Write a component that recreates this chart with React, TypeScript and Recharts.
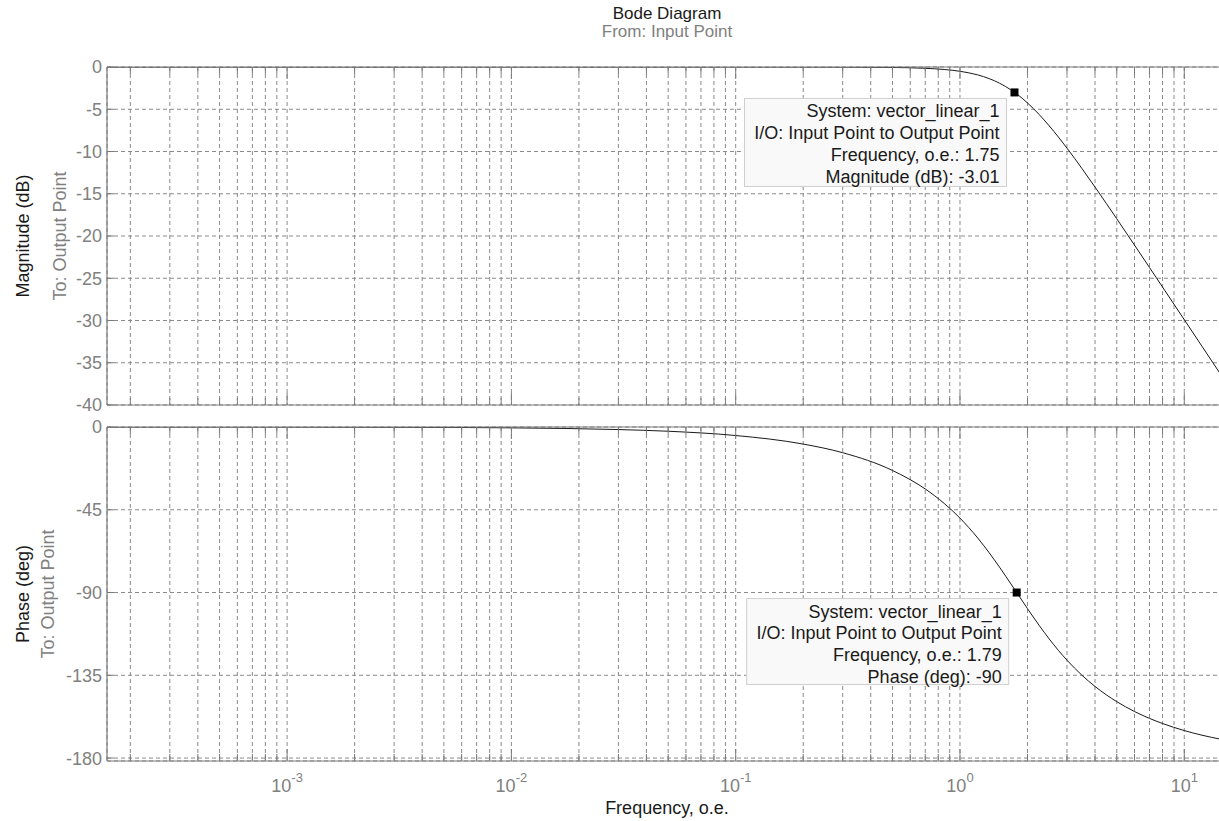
import React from 'react';
import { LineChart, Line, XAxis, YAxis, CartesianGrid, ReferenceDot } from 'recharts';

// ---- data ----
const freq = [0.0001574, 0.001, 0.003, 0.01, 0.03, 0.05, 0.1, 0.2, 0.3, 0.5, 0.7, 0.85, 1.0, 1.2, 1.35, 1.5, 1.6, 1.75, 1.79, 2.0, 2.25, 2.5, 2.75, 3, 3.5, 4, 4.5, 5, 6, 7, 8, 10, 12, 14.58];
const magDb = [0, 0, 0, 0, 0, 0, -0.001, -0.005, -0.014, -0.055, -0.155, -0.294, -0.508, -0.935, -1.374, -1.911, -2.321, -3.01, -3.19, -4.257, -5.6, -6.965, -8.307, -9.604, -12.025, -14.21, -16.179, -17.96, -21.08, -23.73, -26.04, -29.9, -33.06, -36.44];
const phaseDeg = [0, -0.05, -0.14, -0.46, -1.39, -2.31, -4.63, -9.28, -13.98, -23.63, -33.69, -41.52, -49.54, -60.37, -68.4, -76.17, -81.15, -88.21, -90, -98.75, -107.72, -115.24, -121.52, -126.78, -135, -141.06, -145.69, -149.33, -154.69, -158.44, -161.21, -165.05, -167.58, -169.8];

const magTicks = [0, -5, -10, -15, -20, -25, -30, -35, -40];
const phaseTicks = [0, -45, -90, -135, -180];
const decadeTicks = [0.001, 0.01, 0.1, 1, 10];
const decadeExponents = ['-3', '-2', '-1', '0', '1'];
const freqTicks = [
  0.0002, 0.0003, 0.0004, 0.0005, 0.0006, 0.0007, 0.0008, 0.0009,
  0.001, 0.002, 0.003, 0.004, 0.005, 0.006, 0.007, 0.008, 0.009,
  0.01, 0.02, 0.03, 0.04, 0.05, 0.06, 0.07, 0.08, 0.09,
  0.1, 0.2, 0.3, 0.4, 0.5, 0.6, 0.7, 0.8, 0.9,
  1, 2, 3, 4, 5, 6, 7, 8, 9,
  10,
];
const freqDomain = [0.0001574, 14.58];

const magCursor = { f: 1.75, v: -3.01 };
const phaseCursor = { f: 1.79, v: -90 };
const magCursorLines = ['System: vector_linear_1', 'I/O: Input Point to Output Point', 'Frequency, o.e.: 1.75', 'Magnitude (dB): -3.01'];
const phaseCursorLines = ['System: vector_linear_1', 'I/O: Input Point to Output Point', 'Frequency, o.e.: 1.79', 'Phase (deg): -90'];

const magData = freq.map((f, i) => ({ f, v: magDb[i] }));
const phaseData = freq.map((f, i) => ({ f, v: phaseDeg[i] }));

// ---- styles ----
const FONT = '"Liberation Sans", Arial, Helvetica, sans-serif';
const GRAY = '#808080';
const AXIS = '#7a7a7a';
const GRID = '#8a8a8a';
const INK = '#1a1a1a';

function isMajor(v: number) {
  return decadeTicks.findIndex((d) => Math.abs(d - v) / d < 1e-6);
}

function makeBottomTick(showLabels: boolean) {
  return (props: any) => {
    const { x, y, payload } = props;
    const di = isMajor(payload.value);
    const major = di >= 0;
    return (
      <g>
        <line x1={x} y1={y} x2={x} y2={y - (major ? 12 : 7)} stroke={AXIS} strokeWidth={1} />
        {showLabels && major && (
          <text x={x} y={y + 31} textAnchor="middle" fill={GRAY} fontSize={18} fontFamily={FONT}>
            10<tspan dy={-10} fontSize={13}>{decadeExponents[di]}</tspan>
          </text>
        )}
      </g>
    );
  };
}

const TopTick = (props: any) => {
  const { x, y, payload } = props;
  const major = isMajor(payload.value) >= 0;
  return <line x1={x} y1={y} x2={x} y2={y + (major ? 12 : 7)} stroke={AXIS} strokeWidth={1} />;
};

const LeftTick = (props: any) => {
  const { x, y, payload } = props;
  return (
    <g>
      <line x1={x} y1={y} x2={x + 7} y2={y} stroke={AXIS} strokeWidth={1} />
      <text x={x - 5} y={y} dy="0.36em" textAnchor="end" fill={GRAY} fontSize={18} fontFamily={FONT}>
        {payload.value}
      </text>
    </g>
  );
};

function makeAnnot(lines: string[], h: number) {
  return (p: any) => {
    const { cx, cy } = p;
    const w = 262;
    const right = cx - 8;
    const top = cy + 6;
    return (
      <g>
        <rect x={right - w} y={top} width={w} height={h} fill="#f9f9f9" stroke="#cfcfcf" strokeWidth={1} />
        {lines.map((t, i) => (
          <text key={i} x={right - 7} y={top + 19 + i * 21.8} textAnchor="end" fontSize={18} fill={INK} fontFamily={FONT}>
            {t}
          </text>
        ))}
        <rect x={cx - 4} y={cy - 4} width={8} height={8} fill="#000" />
      </g>
    );
  };
}

function Panel(props: {
  data: { f: number; v: number }[];
  height: number;
  top: number;
  bottom: number;
  yDomain: number[];
  yTicks: number[];
  showXLabels: boolean;
  cursor: { f: number; v: number };
  cursorLines: string[];
  boxH: number;
}) {
  const { data, height, top, bottom, yDomain, yTicks, showXLabels, cursor, cursorLines, boxH } = props;
  return (
    <LineChart width={1240} height={height} data={data} margin={{ top, right: 19, bottom, left: 7 }}>
      <CartesianGrid xAxisId="b" stroke={GRID} strokeDasharray="4 3" strokeWidth={1} />
      <XAxis
        xAxisId="b"
        dataKey="f"
        type="number"
        scale="log"
        domain={freqDomain}
        allowDataOverflow
        ticks={freqTicks}
        interval={0}
        height={1}
        tickSize={0}
        tickMargin={0}
        tickLine={false}
        axisLine={{ stroke: AXIS, strokeWidth: 1.2 }}
        tick={makeBottomTick(showXLabels)}
      />
      <XAxis
        xAxisId="top"
        orientation="top"
        dataKey="f"
        type="number"
        scale="log"
        domain={freqDomain}
        allowDataOverflow
        ticks={freqTicks}
        interval={0}
        height={1}
        tickSize={0}
        tickMargin={0}
        tickLine={false}
        axisLine={{ stroke: AXIS, strokeWidth: 1.2 }}
        tick={TopTick}
      />
      <YAxis
        type="number"
        domain={yDomain}
        allowDataOverflow
        ticks={yTicks}
        interval={0}
        width={100}
        tickSize={0}
        tickMargin={0}
        tickLine={false}
        axisLine={{ stroke: AXIS, strokeWidth: 1.2 }}
        tick={LeftTick}
      />
      <Line
        xAxisId="b"
        dataKey="v"
        type="monotone"
        stroke={INK}
        strokeWidth={1}
        dot={false}
        isAnimationActive={false}
      />
      <ReferenceDot
        xAxisId="b"
        x={cursor.f}
        y={cursor.v}
        r={4}
        ifOverflow="visible"
        shape={makeAnnot(cursorLines, boxH)}
      />
    </LineChart>
  );
}

export default function App() {
  return (
    <div
      style={{
        position: 'fixed',
        left: 0,
        top: 0,
        width: 1219,
        height: 821,
        overflow: 'hidden',
        background: '#fff',
        fontFamily: FONT,
      }}
    >
      <div style={{ position: 'absolute', left: 0, top: 0 }}>
        <Panel
          data={magData}
          height={420}
          top={66}
          bottom={14}
          yDomain={[-40, 0]}
          yTicks={magTicks}
          showXLabels={false}
          cursor={magCursor}
          cursorLines={magCursorLines}
          boxH={88}
        />
      </div>
      <div style={{ position: 'absolute', left: 0, top: 410 }}>
        <Panel
          data={phaseData}
          height={411}
          top={16}
          bottom={59}
          yDomain={[-181.6, 0]}
          yTicks={phaseTicks}
          showXLabels={true}
          cursor={phaseCursor}
          cursorLines={phaseCursorLines}
          boxH={86}
        />
      </div>
      <svg width={1219} height={821} style={{ position: 'absolute', left: 0, top: 0, pointerEvents: 'none' }}>
        <text x={667} y={18.5} textAnchor="middle" fontSize={17} fill={INK} fontFamily={FONT}>Bode Diagram</text>
        <text x={667} y={36.5} textAnchor="middle" fontSize={17} fill={GRAY} fontFamily={FONT}>From: Input Point</text>
        <text x={667} y={814} textAnchor="middle" fontSize={18} fill={INK} fontFamily={FONT}>Frequency, o.e.</text>
        <text transform="translate(29,236) rotate(-90)" textAnchor="middle" fontSize={18} fill={INK} fontFamily={FONT}>Magnitude (dB)</text>
        <text transform="translate(66,236) rotate(-90)" textAnchor="middle" fontSize={18} fill={GRAY} fontFamily={FONT}>To: Output Point</text>
        <text transform="translate(29,594) rotate(-90)" textAnchor="middle" fontSize={18} fill={INK} fontFamily={FONT}>Phase (deg)</text>
        <text transform="translate(54,594) rotate(-90)" textAnchor="middle" fontSize={18} fill={GRAY} fontFamily={FONT}>To: Output Point</text>
      </svg>
    </div>
  );
}
